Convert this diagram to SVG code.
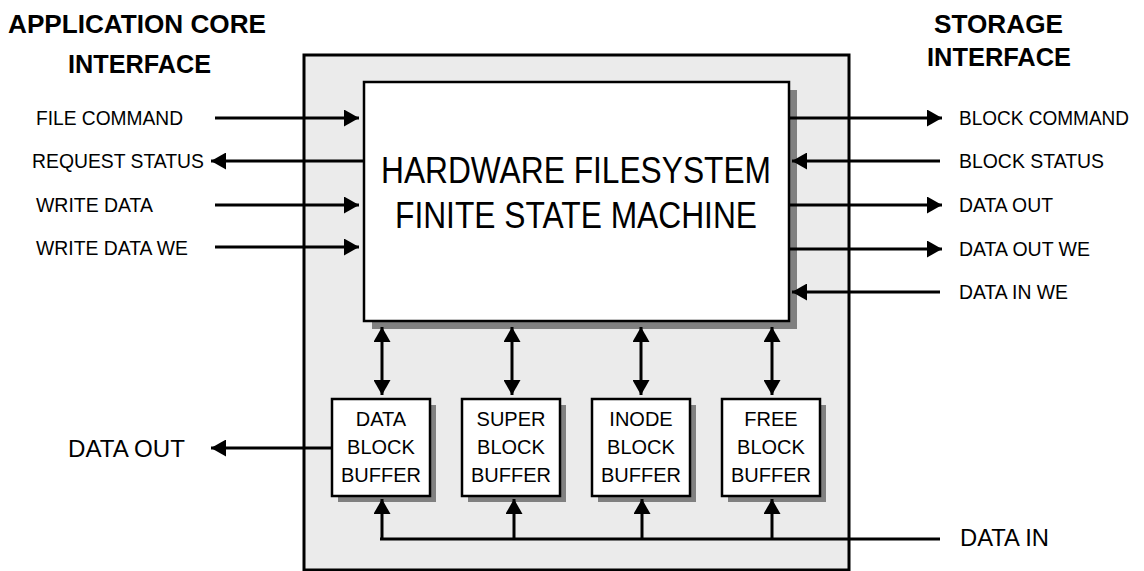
<svg xmlns="http://www.w3.org/2000/svg" width="1144" height="571" viewBox="0 0 1144 571">
<style>
text{font-family:"Liberation Sans",Arial,sans-serif;fill:#000}
.title{font-size:25px;font-weight:bold;text-anchor:middle}
.lbl{font-size:21px}
.big{font-size:36px;text-anchor:middle}
.buf{font-size:20px;text-anchor:middle}
.ln{stroke:#000;stroke-width:3;fill:none}
.box{fill:#fff;stroke:#000;stroke-width:2.5}
.shadow{fill:#808080}
</style>
<defs>
<marker id="ah" markerUnits="userSpaceOnUse" markerWidth="16" markerHeight="17" refX="15" refY="8.5" orient="auto-start-reverse" viewBox="0 0 16 17">
<path d="M0,0 L15,8.5 L0,17 z" fill="#000"/>
</marker>
</defs>
<rect width="1144" height="571" fill="#fff"/>
<g id="outer">
<rect x="304" y="55" width="545" height="515" fill="#ebebeb" stroke="#000" stroke-width="3"/>
</g>
<g id="titles">
<text class="title" x="137" y="33" textLength="258" lengthAdjust="spacingAndGlyphs">APPLICATION CORE</text>
<text class="title" x="139.5" y="73" textLength="143" lengthAdjust="spacingAndGlyphs">INTERFACE</text>
<text class="title" x="998.5" y="33" textLength="129" lengthAdjust="spacingAndGlyphs">STORAGE</text>
<text class="title" x="999" y="66" textLength="144" lengthAdjust="spacingAndGlyphs">INTERFACE</text>
</g>
<g id="fsm">
<rect class="shadow" x="372" y="90" width="425" height="239"/>
<rect class="box" x="364" y="82" width="425" height="239"/>
<text class="big" x="576" y="183" textLength="390" lengthAdjust="spacingAndGlyphs">HARDWARE FILESYSTEM</text>
<text class="big" x="576" y="228" textLength="362" lengthAdjust="spacingAndGlyphs">FINITE STATE MACHINE</text>
</g>
<g id="buf-data">
<rect class="shadow" x="338" y="405" width="98" height="97"/>
<rect class="box" x="332" y="399" width="98" height="97"/>
<text class="buf" x="381" y="426">DATA</text>
<text class="buf" x="381" y="454">BLOCK</text>
<text class="buf" x="381" y="482">BUFFER</text>
</g>
<g id="buf-super">
<rect class="shadow" x="468" y="405" width="98" height="97"/>
<rect class="box" x="462" y="399" width="98" height="97"/>
<text class="buf" x="511" y="426">SUPER</text>
<text class="buf" x="511" y="454">BLOCK</text>
<text class="buf" x="511" y="482">BUFFER</text>
</g>
<g id="buf-inode">
<rect class="shadow" x="598" y="405" width="98" height="97"/>
<rect class="box" x="592" y="399" width="98" height="97"/>
<text class="buf" x="641" y="426">INODE</text>
<text class="buf" x="641" y="454">BLOCK</text>
<text class="buf" x="641" y="482">BUFFER</text>
</g>
<g id="buf-free">
<rect class="shadow" x="728" y="405" width="98" height="97"/>
<rect class="box" x="722" y="399" width="98" height="97"/>
<text class="buf" x="771" y="426">FREE</text>
<text class="buf" x="771" y="454">BLOCK</text>
<text class="buf" x="771" y="482">BUFFER</text>
</g>
<g id="labels">
<text class="lbl" x="36" y="125" textLength="147" lengthAdjust="spacingAndGlyphs">FILE COMMAND</text>
<text class="lbl" x="32" y="168" textLength="172" lengthAdjust="spacingAndGlyphs">REQUEST STATUS</text>
<text class="lbl" x="36" y="212" textLength="117" lengthAdjust="spacingAndGlyphs">WRITE DATA</text>
<text class="lbl" x="36" y="255" textLength="152" lengthAdjust="spacingAndGlyphs">WRITE DATA WE</text>
<text x="959" y="125" font-size="20" textLength="170" lengthAdjust="spacingAndGlyphs">BLOCK COMMAND</text>
<text class="lbl" x="959" y="168" textLength="145" lengthAdjust="spacingAndGlyphs">BLOCK STATUS</text>
<text class="lbl" x="959" y="212" textLength="94" lengthAdjust="spacingAndGlyphs">DATA OUT</text>
<text class="lbl" x="959" y="256" textLength="131" lengthAdjust="spacingAndGlyphs">DATA OUT WE</text>
<text class="lbl" x="959" y="299" textLength="109" lengthAdjust="spacingAndGlyphs">DATA IN WE</text>
<text x="68" y="457" font-size="24" textLength="117" lengthAdjust="spacingAndGlyphs">DATA OUT</text>
<text x="960" y="546" font-size="23" textLength="89" lengthAdjust="spacingAndGlyphs">DATA IN</text>
</g>
<g id="connectors">
<line class="ln" x1="215" y1="118" x2="359" y2="118" marker-end="url(#ah)"/>
<line class="ln" x1="364" y1="161" x2="211" y2="161" marker-end="url(#ah)"/>
<line class="ln" x1="215" y1="205" x2="359" y2="205" marker-end="url(#ah)"/>
<line class="ln" x1="215" y1="247" x2="359" y2="247" marker-end="url(#ah)"/>
<line class="ln" x1="789" y1="118" x2="942" y2="118" marker-end="url(#ah)"/>
<line class="ln" x1="940" y1="161" x2="792" y2="161" marker-end="url(#ah)"/>
<line class="ln" x1="789" y1="205" x2="942" y2="205" marker-end="url(#ah)"/>
<line class="ln" x1="789" y1="249" x2="942" y2="249" marker-end="url(#ah)"/>
<line class="ln" x1="940" y1="292" x2="792" y2="292" marker-end="url(#ah)"/>
<line class="ln" x1="382" y1="327" x2="382" y2="395" marker-start="url(#ah)" marker-end="url(#ah)"/>
<line class="ln" x1="512" y1="327" x2="512" y2="395" marker-start="url(#ah)" marker-end="url(#ah)"/>
<line class="ln" x1="641" y1="327" x2="641" y2="395" marker-start="url(#ah)" marker-end="url(#ah)"/>
<line class="ln" x1="772" y1="327" x2="772" y2="395" marker-start="url(#ah)" marker-end="url(#ah)"/>
<line class="ln" x1="332" y1="448" x2="211" y2="448" marker-end="url(#ah)"/>
<line class="ln" x1="380" y1="539" x2="940" y2="539"/>
<line class="ln" x1="382" y1="539" x2="382" y2="499" marker-end="url(#ah)"/>
<line class="ln" x1="514" y1="539" x2="514" y2="499" marker-end="url(#ah)"/>
<line class="ln" x1="642" y1="539" x2="642" y2="499" marker-end="url(#ah)"/>
<line class="ln" x1="772" y1="539" x2="772" y2="499" marker-end="url(#ah)"/>
</g>
</svg>
